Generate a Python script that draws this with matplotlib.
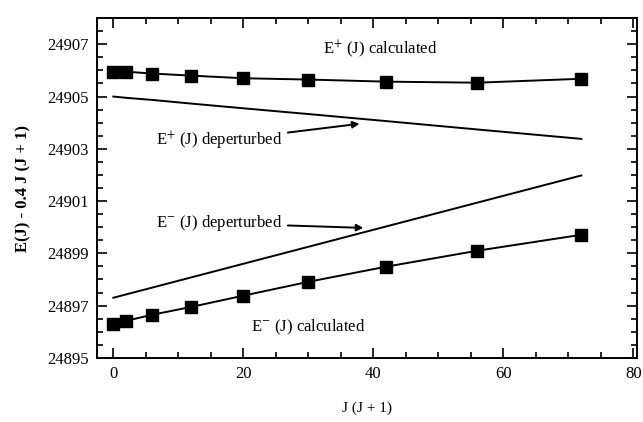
import matplotlib
matplotlib.use("Agg")
import matplotlib.pyplot as plt
from matplotlib.ticker import MultipleLocator

plt.rcParams['font.family'] = ['Liberation Serif', 'DejaVu Serif']
plt.rcParams['mathtext.fontset'] = 'stix'

## ------------ data -----------
jj = [0, 2, 6, 12, 20, 30, 42, 56, 72]   # J(J+1)
e_plus_calc = [24905.95, 24905.95, 24905.88, 24905.80, 24905.70, 24905.65, 24905.57, 24905.53, 24905.68]
e_minus_calc = [24896.30, 24896.42, 24896.65, 24896.95, 24897.38, 24897.91, 24898.49, 24899.10, 24899.71]
e_plus_dep = [24905.00, 24904.95, 24904.87, 24904.73, 24904.55, 24904.33, 24904.06, 24903.74, 24903.38]
e_minus_dep = [24897.30, 24897.43, 24897.69, 24898.08, 24898.60, 24899.25, 24900.03, 24900.94, 24901.98]
y_ticks = [24895, 24897, 24899, 24901, 24903, 24905, 24907]

## ------------ plot -----------
fig = plt.figure(figsize=(6.43, 4.22), dpi=100)
ax = fig.add_axes([0.151, 0.152, 0.840, 0.805])

ax.plot(jj, e_plus_calc, 'k-', lw=1.4, marker='s', ms=8, mfc='k', mec='k')
ax.plot(jj, e_minus_calc, 'k-', lw=1.4, marker='s', ms=8, mfc='k', mec='k')
ax.plot(jj, e_plus_dep, 'k-', lw=1.4)
ax.plot(jj, e_minus_dep, 'k-', lw=1.4)

ax.set_xlim(-2.5, 80.6)
ax.set_ylim(24895, 24908)
ax.xaxis.set_major_locator(MultipleLocator(20))
ax.xaxis.set_minor_locator(MultipleLocator(5))
ax.set_yticks(y_ticks)
ax.yaxis.set_minor_locator(MultipleLocator(0.5))
ax.tick_params(which='both', direction='in', top=True, right=True, labelsize=12, width=1.2)
ax.tick_params(which='major', length=7, pad=6)
ax.tick_params(which='minor', length=4)
for s in ax.spines.values():
    s.set_linewidth(1.4)

ax.set_xlabel('J (J + 1)', fontsize=11, labelpad=14)
ax.set_ylabel('E(J) - 0.4 J (J + 1)', fontsize=12, fontweight='bold', labelpad=11)

# annotations
fs = 12
ax.text(41, 24906.8, r'E$^{+}$ (J) calculated', fontsize=fs, ha='center', va='center')
ax.text(30, 24896.15, r'E$^{-}$ (J) calculated', fontsize=fs, ha='center', va='center')
ax.annotate(r'E$^{+}$ (J) deperturbed', xy=(38.3, 24903.97), xytext=(26.0, 24903.3),
            fontsize=fs, ha='right', va='center',
            arrowprops=dict(arrowstyle='-|>', color='k', lw=1.4, mutation_scale=10))
ax.annotate(r'E$^{-}$ (J) deperturbed', xy=(38.9, 24899.97), xytext=(26.0, 24900.15),
            fontsize=fs, ha='right', va='center',
            arrowprops=dict(arrowstyle='-|>', color='k', lw=1.4, mutation_scale=10))

fig.savefig('out.png', dpi=100)
